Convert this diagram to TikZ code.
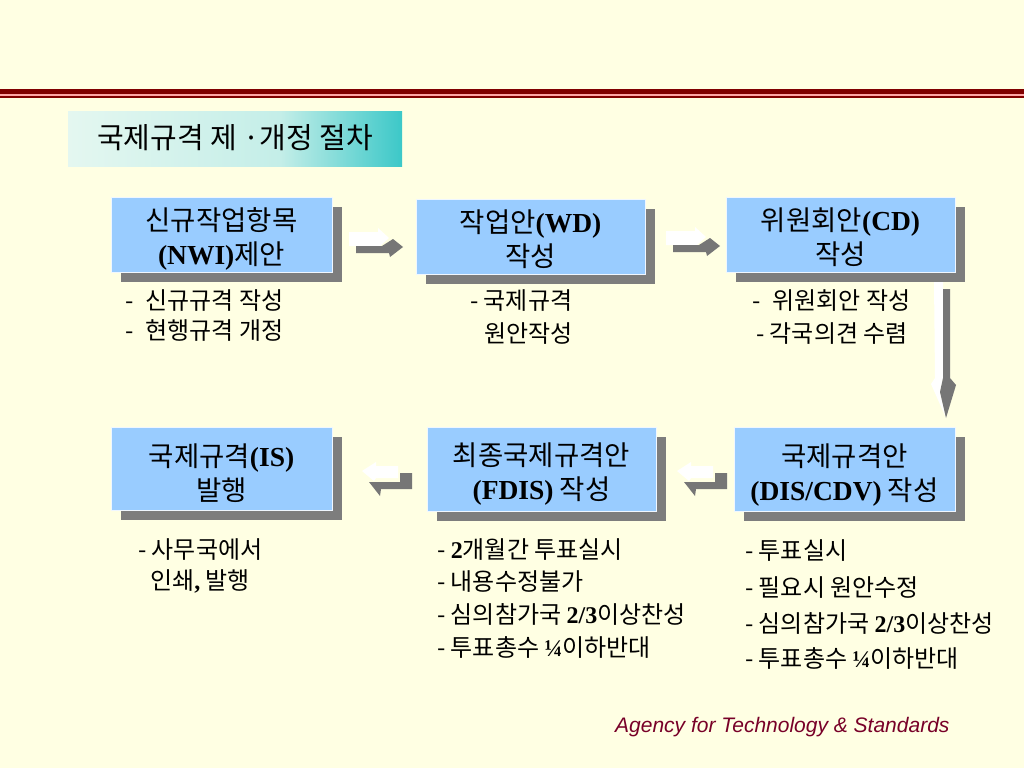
\documentclass[tikz,border=0pt]{standalone}
\usepackage{fontspec}
\setmainfont{Noto Sans CJK KR}
\newfontfamily\tnr{Liberation Serif}
\newfontfamily\arial{Liberation Sans}
\usetikzlibrary{shadows}
\definecolor{bgyellow}{RGB}{255,255,227}
\definecolor{darkred}{RGB}{128,0,0}
\definecolor{boxblue}{RGB}{153,204,255}
\definecolor{shadowgray}{RGB}{125,125,125}
\definecolor{arrowgray}{RGB}{118,118,118}
\definecolor{titlelight}{RGB}{228,247,240}
\definecolor{titlemid}{RGB}{196,238,232}
\definecolor{titleteal}{RGB}{60,200,200}
\definecolor{footred}{RGB}{120,0,40}
\tikzset{
  box/.style={fill=boxblue, draw=white!85!boxblue, line width=0.6pt, inner sep=0pt,
    drop shadow={shadow xshift=10pt, shadow yshift=-10pt, fill=shadowgray, opacity=1}},
  boxtext/.style={inner sep=0pt, align=center, font=\fontsize{27.5}{34}\selectfont},
  bullet/.style={anchor=base west, inner sep=0pt, font=\fontsize{24}{30}\selectfont},
  rarrow/.pic={
    \fill[white] (-27,-11) -- (2,-11) -- (2,-15) -- (13,-5) -- (4,3) -- (-27,3) -- cycle;
    \fill[arrowgray] (-20,3) -- (6,3) -- (17,-4) -- (27,4) -- (14,14) -- (13,10) -- (-20,10) -- cycle;
  },
  larrow/.pic={
    \fill[white] (-28,-9) -- (-14,-18) -- (-14,-14) -- (8,-14) -- (8,-2) -- (-14,-2) -- (-16,1) -- cycle;
    \fill[arrowgray] (10,-7) -- (22,-7) -- (22,9) -- (-9,9) -- (-10,16) -- (-21,2) -- (10,2) -- cycle;
  },
  darrow/.pic={
    \fill[white] (-11,-68) -- (-2,-68) -- (-2,28) -- (-5,42) -- (1,68) -- (-14,34) -- (-10,28) -- cycle;
    \fill[arrowgray] (-2,-61) -- (5,-61) -- (5,28) -- (11,35) -- (1,68) -- (-5,42) -- (-2,28) -- cycle;
  }
}
\begin{document}
\begin{tikzpicture}[x=1pt,y=-1pt]
\useasboundingbox (0,0) rectangle (1024,768);
\fill[bgyellow] (0,0) rectangle (1024,768);
% top rule
\fill[darkred] (0,89) rectangle (1024,94);
\fill[red!35!white] (0,94) rectangle (1024,95.5);
\fill[darkred] (0,95.5) rectangle (1024,97.5);
% title
\shade[left color=titlelight, right color=titlemid] (68,111) rectangle (280,166);
\shade[left color=titlemid, right color=titleteal] (280,111) rectangle (402,166);
\node[inner sep=0pt, font=\fontsize{29}{34}\selectfont] (title) at (235,138) {국제규격 제 ·개정 절차};
% boxes
\node[box, minimum width=221pt, minimum height=75pt] (n1) at (221.5,234.5) {};
\node[box, minimum width=229pt, minimum height=75pt] (n2) at (530.5,236.5) {};
\node[box, minimum width=229pt, minimum height=75pt] (n3) at (840.5,234.5) {};
\node[box, minimum width=221pt, minimum height=83pt] (n4) at (221.5,468.5) {};
\node[box, minimum width=229pt, minimum height=84pt] (n5) at (541.5,469) {};
\node[box, minimum width=221pt, minimum height=84pt] (n6) at (844.5,469) {};
\node[boxtext] (t1) at ([yshift=-4pt]n1.center) {신규작업항목\\{\tnr\bfseries (NWI)}제안};
\node[boxtext] (t2) at ([yshift=-3pt]n2.center) {작업안{\tnr\bfseries (WD)}\\작성};
\node[boxtext] (t3) at ([yshift=-3pt]n3.center) {위원회안{\tnr\bfseries (CD)}\\작성};
\node[boxtext] (t4) at ([yshift=-5pt]n4.center) {국제규격{\tnr\bfseries (IS)}\\발행};
\node[boxtext] (t5) at ([yshift=-5pt]n5.center) {최종국제규격안\\{\tnr\bfseries (FDIS)} 작성};
\node[boxtext] (t6) at ([yshift=-6pt]n6.center) {국제규격안\\{\tnr\bfseries (DIS/CDV)} 작성};
% block arrows
\pic (a12) at (376,243) {rarrow};
\pic (a23) at (693,242) {rarrow};
\pic (a36) at (945,350) {darrow};
\pic (a65) at (705,480) {larrow};
\pic (a54) at (390,480) {larrow};
% bullets
\node[bullet] (b1a) at (125,309) {-\enspace 신규규격 작성};
\node[bullet] (b1b) at (125,339) {-\enspace 현행규격 개정};
\node[bullet] (b2a) at (470,309) {- 국제규격};
\node[bullet] (b2b) at (484,342) {원안작성};
\node[bullet] (b3a) at (752,309) {-\enspace 위원회안 작성};
\node[bullet] (b3b) at (756,342) {- 각국의견 수렴};
\node[bullet] (b4a) at (138,558) {- 사무국에서};
\node[bullet] (b4b) at (150,589) {인쇄{\tnr\bfseries ,} 발행};
\node[bullet] (b5a) at (437,558) {- {\tnr\bfseries 2}개월간 투표실시};
\node[bullet] (b5b) at (437,590) {- 내용수정불가};
\node[bullet] (b5c) at (437,623) {- 심의참가국 {\tnr\bfseries 2/3}이상찬성};
\node[bullet] (b5d) at (437,656) {- 투표총수 {\tnr\bfseries ¼}이하반대};
\node[bullet] (b6a) at (745,559) {- 투표실시};
\node[bullet] (b6b) at (745,596) {- 필요시 원안수정};
\node[bullet] (b6c) at (745,632) {- 심의참가국 {\tnr\bfseries 2/3}이상찬성};
\node[bullet] (b6d) at (745,667) {- 투표총수 {\tnr\bfseries ¼}이하반대};
% footer
\node[anchor=base west, inner sep=0pt, text=footred, font=\arial\itshape\fontsize{21}{24}\selectfont] (foot) at (615,732) {Agency for Technology \& Standards};
\end{tikzpicture}
\end{document}
